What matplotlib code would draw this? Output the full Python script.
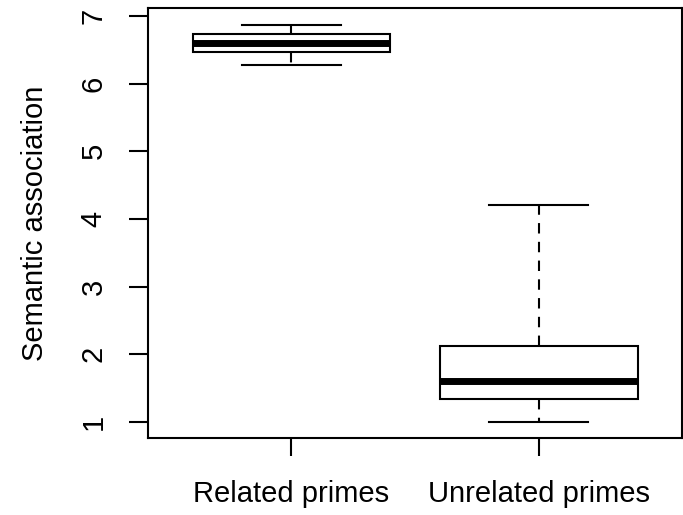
import matplotlib
matplotlib.use("Agg")
import matplotlib.pyplot as plt

plt.rcParams['font.family'] = ['Liberation Sans', 'DejaVu Sans']

# box statistics
groups = ['Related primes', 'Unrelated primes']
whisker_low = [6.28, 1.00]
q1 = [6.47, 1.34]
median = [6.60, 1.60]
q3 = [6.73, 2.13]
whisker_high = [6.87, 4.21]
yticks = [1, 2, 3, 4, 5, 6, 7]

stats = []
for i in range(len(groups)):
    stats.append({'label': groups[i], 'whislo': whisker_low[i], 'q1': q1[i],
                  'med': median[i], 'q3': q3[i], 'whishi': whisker_high[i],
                  'fliers': []})

fig = plt.figure(figsize=(6.83, 5.15), dpi=100)
ax = fig.add_axes([148 / 683, 77 / 515, 534 / 683, 430 / 515])

ax.bxp(stats, positions=[1, 2], widths=0.8, patch_artist=True,
       boxprops=dict(facecolor='white', edgecolor='black', linewidth=1.5),
       medianprops=dict(color='black', linewidth=5, solid_capstyle='butt'),
       whiskerprops=dict(color='black', linewidth=1.5, linestyle=(0, (5, 4))),
       capprops=dict(color='black', linewidth=1.5),
       capwidths=0.4)

ax.set_xlim(0.42, 2.58)
ax.set_ylim(0.765, 7.115)
ax.set_yticks(yticks)
ax.set_yticklabels([str(t) for t in yticks], rotation=90, va='center')

for s in ax.spines.values():
    s.set_linewidth(1.5)

ax.tick_params(axis='y', length=14, width=1.5, pad=15, labelsize=21)
ax.tick_params(axis='x', length=13, width=1.5, pad=17, labelsize=21)
ax.set_ylabel('Semantic association', fontsize=21, labelpad=22)

fig.savefig('out.png', dpi=100)
